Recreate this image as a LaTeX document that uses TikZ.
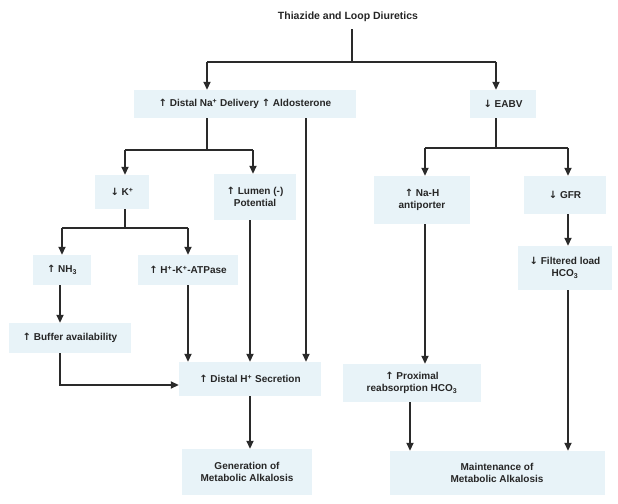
\documentclass[tikz,border=0pt]{standalone}
\usepackage{fontspec}
\setmainfont{Liberation Sans}
\newfontfamily\arrfont{DejaVu Sans}
\newcommand\arrup{{\arrfont\bfseries ↑}}
\newcommand\arrdn{{\arrfont\bfseries ↓}}
\usetikzlibrary{arrows.meta}
\definecolor{boxfill}{HTML}{E8F3F8}
\definecolor{linec}{HTML}{2A2A2A}
\definecolor{textc}{HTML}{262626}
\begin{document}
\begin{tikzpicture}[x=1pt,y=-1pt,
  box/.style={fill=boxfill, text=textc, font=\bfseries\fontsize{10}{12}\selectfont, align=center, inner sep=2pt},
  conn/.style={draw=linec, line width=1.7pt},
  arr/.style={conn, -{Triangle[length=8pt,width=7pt]}}]
\useasboundingbox (0,0) rectangle (618,503);
\fill[white] (0,0) rectangle (618,503);
% nodes
\node[box, fill=white, font=\bfseries\fontsize{10.5}{12}\selectfont, minimum width=187pt, minimum height=24pt] (title) at (348,17) {Thiazide and Loop Diuretics};
\node[box, minimum width=222pt, minimum height=28pt] (distal) at (245,104) {\arrup{} Distal Na\textsuperscript{+} Delivery \arrup{} Aldosterone};
\node[box, minimum width=66pt, minimum height=28pt] (eabv) at (503,104) {\arrdn{} EABV};
\node[box, minimum width=54pt, minimum height=34pt] (k) at (122,192) {\arrdn{} K\textsuperscript{+}};
\node[box, minimum width=82pt, minimum height=46pt] (lumen) at (255,197) {\arrup{} Lumen (-)\\Potential};
\node[box, minimum width=58pt, minimum height=30pt] (nh3) at (62,270) {\arrup{} NH\textsubscript{3}};
\node[box, minimum width=100pt, minimum height=30pt] (hk) at (188,270) {\arrup{} H\textsuperscript{+}-K\textsuperscript{+}-ATPase};
\node[box, minimum width=122pt, minimum height=30pt] (buffer) at (70,338) {\arrup{} Buffer availability};
\node[box, minimum width=142pt, minimum height=34pt] (dhs) at (250,379) {\arrup{} Distal H\textsuperscript{+} Secretion};
\node[box, minimum width=130pt, minimum height=46pt] (gen) at (247,472) {Generation of\\Metabolic Alkalosis};
\node[box, minimum width=96pt, minimum height=48pt] (nah) at (422,200) {\arrup{} Na-H\\antiporter};
\node[box, minimum width=82pt, minimum height=38pt] (gfr) at (565,195) {\arrdn{} GFR};
\node[box, minimum width=94pt, minimum height=44pt] (filt) at (565,268) {\arrdn{} Filtered load\\HCO\textsubscript{3}};
\node[box, minimum width=138pt, minimum height=38pt] (prox) at (412,383) {\arrup{} Proximal\\reabsorption HCO\textsubscript{3}};
\node[box, minimum width=215pt, minimum height=44pt] (maint) at (497,473) {Maintenance of\\Metabolic Alkalosis};
% top split
\coordinate (tb) at (352,62);
\coordinate (tl) at (207,62);
\coordinate (tr) at (496,62);
\draw[conn] (tb |- title.south) -- (tb);
\draw[conn] (tl) -- (tr);
\draw[arr] (tl) -- (tl |- distal.north);
\draw[arr] (tr) -- (tr |- eabv.north);
% distal split
\coordinate (dj) at (207,150);
\coordinate (dl) at (125,150);
\coordinate (dr) at (253,150);
\draw[conn] (dj |- distal.south) -- (dj);
\draw[conn] (dl) -- (dr);
\draw[arr] (dl) -- (dl |- k.north);
\draw[arr] (dr) -- (dr |- lumen.north);
\coordinate (al) at (306,0);
\draw[arr] (al |- distal.south) -- (al |- dhs.north);
% K split
\coordinate (kj) at (125,228);
\coordinate (kl) at (62,228);
\coordinate (kr) at (188,228);
\draw[conn] (kj |- k.south) -- (kj);
\draw[conn] (kl) -- (kr);
\draw[arr] (kl) -- (kl |- nh3.north);
\draw[arr] (kr) -- (kr |- hk.north);
\coordinate (nb) at (60,0);
\draw[arr] (nb |- nh3.south) -- (nb |- buffer.north);
\coordinate (bc) at (60,385);
\draw[arr] (bc |- buffer.south) -- (bc) -- (bc -| dhs.west);
\draw[arr] (hk.south) -- (hk.south |- dhs.north);
\coordinate (lx) at (250,0);
\draw[arr] (lx |- lumen.south) -- (lx |- dhs.north);
\draw[arr] (lx |- dhs.south) -- (lx |- gen.north);
% EABV split
\coordinate (ej) at (496,148);
\coordinate (el) at (425,148);
\coordinate (er) at (568,148);
\draw[conn] (ej |- eabv.south) -- (ej);
\draw[conn] (el) -- (er);
\draw[arr] (el) -- (el |- nah.north);
\draw[arr] (er) -- (er |- gfr.north);
\draw[arr] (el |- nah.south) -- (el |- prox.north);
\coordinate (px) at (410,0);
\draw[arr] (px |- prox.south) -- (px |- maint.north);
\draw[arr] (er |- gfr.south) -- (er |- filt.north);
\draw[arr] (er |- filt.south) -- (er |- maint.north);
\end{tikzpicture}
\end{document}
